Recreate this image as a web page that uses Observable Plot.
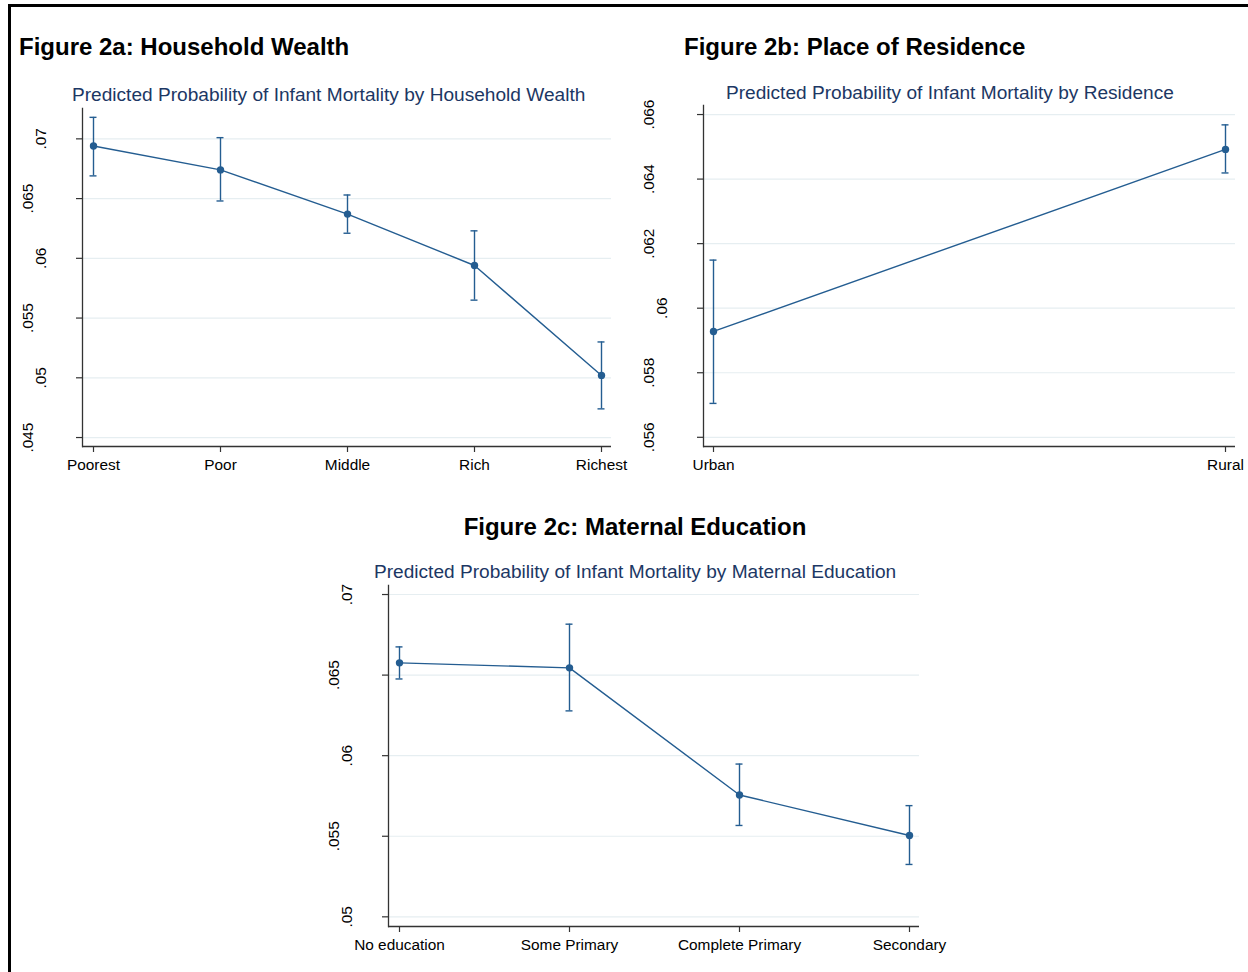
<!DOCTYPE html>
<html>
<head>
<meta charset="utf-8">
<script src="https://cdn.jsdelivr.net/npm/d3@7"></script>
<script src="https://cdn.jsdelivr.net/npm/@observablehq/plot@0.6"></script>
<style>
  html, body { margin: 0; padding: 0; background: #fff; }
  body { width: 1248px; height: 972px; position: relative; overflow: hidden;
         font-family: 'Liberation Sans', Arial, sans-serif; }
  .border { position: absolute; left: 8px; top: 4px; width: 1260px; height: 1000px;
            border-top: 3px solid #000; border-left: 3px solid #000; }
  .title { position: absolute; font-weight: bold; font-size: 24px; line-height: 1; color: #000; white-space: nowrap; }
  .sub { position: absolute; font-size: 19.1px; line-height: 1; color: #1c3764; white-space: nowrap; }
  .panel { position: absolute; }
</style>
</head>
<body>
<div class="border"></div>
<div class="title" style="left:19px; top:35px;">Figure 2a: Household Wealth</div>
<div class="title" style="left:684px; top:35px;">Figure 2b: Place of Residence</div>
<div class="title" style="left:635px; top:515px; transform: translateX(-50%);">Figure 2c: Maternal Education</div>
<div class="sub" style="left:72px; top:85px;">Predicted Probability of Infant Mortality by Household Wealth</div>
<div class="sub" style="left:726px; top:83px;">Predicted Probability of Infant Mortality by Residence</div>
<div class="sub" style="left:374px; top:562px;">Predicted Probability of Infant Mortality by Maternal Education</div>
<div id="pa" class="panel" style="left:0px; top:100px;"></div>
<div id="pb" class="panel" style="left:630px; top:96px;"></div>
<div id="pc" class="panel" style="left:310px; top:576px;"></div>
<script>
// ---- Data ----
const wealthCats = ["Poorest", "Poor", "Middle", "Rich", "Richest"];
const wealthP  = [0.0694, 0.0674, 0.0637, 0.0594, 0.0502];
const wealthLo = [0.0669, 0.0648, 0.0621, 0.0565, 0.0474];
const wealthHi = [0.0718, 0.0701, 0.0653, 0.0623, 0.0530];
const wealthTicks = [0.045, 0.05, 0.055, 0.06, 0.065, 0.07];

const resCats = ["Urban", "Rural"];
const resP  = [0.05928, 0.06492];
const resLo = [0.05705, 0.06419];
const resHi = [0.06149, 0.06568];
const resTicks = [0.056, 0.058, 0.06, 0.062, 0.064, 0.066];

const eduCats = ["No education", "Some Primary", "Complete Primary", "Secondary"];
const eduP  = [0.06576, 0.06545, 0.05756, 0.05505];
const eduLo = [0.06476, 0.06278, 0.05567, 0.05325];
const eduHi = [0.06675, 0.06816, 0.05948, 0.05690];
const eduTicks = [0.05, 0.055, 0.06, 0.065, 0.07];

// ---- Styles ----
const font = "'Liberation Sans', Arial, sans-serif";
const seriesColor = "#245d91";
const gridColor = "#e6eef1";
const axisColor = "#333";

function panel(o) {
  const data = o.cats.map((c, i) => ({c, p: o.p[i], lo: o.lo[i], hi: o.hi[i]}));
  const fmt = v => String(+v.toFixed(4)).replace(/^0\./, ".");
  const nearT = o.ticks.filter(t => o.near.includes(t));
  const farT = o.ticks.filter(t => !o.near.includes(t));
  return Plot.plot({
    width: o.width, height: o.height,
    marginLeft: o.ml, marginRight: o.mr, marginTop: o.mt, marginBottom: o.mb,
    style: {fontFamily: font, fontSize: "15.4px", color: "#000", background: "transparent", overflow: "visible"},
    x: {type: "point", domain: o.cats, padding: o.padding, axis: null},
    y: {domain: o.domain, axis: null},
    marks: [
      Plot.gridY(o.ticks, {stroke: gridColor, strokeOpacity: 1, strokeWidth: 1.2}),
      Plot.frame({anchor: "left", stroke: axisColor, strokeWidth: 1.3}),
      Plot.ruleY([o.domain[0]], {stroke: axisColor, strokeWidth: 1.3}),
      Plot.axisY(o.ticks, {tickSize: 6, tickFormat: () => "", stroke: axisColor, strokeWidth: 1.2, label: null}),
      Plot.axisY(nearT, {tickSize: 0, tickPadding: 37, tickRotate: -90, tickFormat: fmt, fill: "#000", label: null}),
      Plot.axisY(farT, {tickSize: 0, tickPadding: 50, tickRotate: -90, tickFormat: fmt, fill: "#000", label: null}),
      Plot.axisX(o.cats, {tickSize: 6, tickPadding: 7, stroke: axisColor, strokeWidth: 1.2, fill: "#000", label: null}),
      Plot.ruleX(data, {x: "c", y1: "lo", y2: "hi", stroke: seriesColor, strokeWidth: 1.4}),
      Plot.ruleY(data, {x1: "c", x2: "c", y: "lo", insetLeft: -3.5, insetRight: -3.5, stroke: seriesColor, strokeWidth: 1.4}),
      Plot.ruleY(data, {x1: "c", x2: "c", y: "hi", insetLeft: -3.5, insetRight: -3.5, stroke: seriesColor, strokeWidth: 1.4}),
      Plot.line(data, {x: "c", y: "p", stroke: seriesColor, strokeWidth: 1.4}),
      Plot.dot(data, {x: "c", y: "p", r: 3.7, fill: seriesColor, stroke: "none"})
    ]
  });
}

document.getElementById("pa").append(panel({
  cats: wealthCats, p: wealthP, lo: wealthLo, hi: wealthHi, ticks: wealthTicks,
  near: [0.07, 0.06, 0.05], domain: [0.04425, 0.07254], padding: 0.0786,
  width: 640, height: 390, ml: 82, mr: 29, mt: 8, mb: 44
}));
document.getElementById("pb").append(panel({
  cats: resCats, p: resP, lo: resLo, hi: resHi, ticks: resTicks,
  near: [0.06], domain: [0.055715, 0.06628], padding: 0.0195,
  width: 618, height: 394, ml: 73, mr: 13, mt: 9, mb: 44
}));
document.getElementById("pc").append(panel({
  cats: eduCats, p: eduP, lo: eduLo, hi: eduHi, ticks: eduTicks,
  near: [0.07, 0.06, 0.05], domain: [0.0494, 0.07056], padding: 0.059,
  width: 650, height: 396, ml: 78, mr: 41, mt: 9, mb: 46
}));
</script>
</body>
</html>
